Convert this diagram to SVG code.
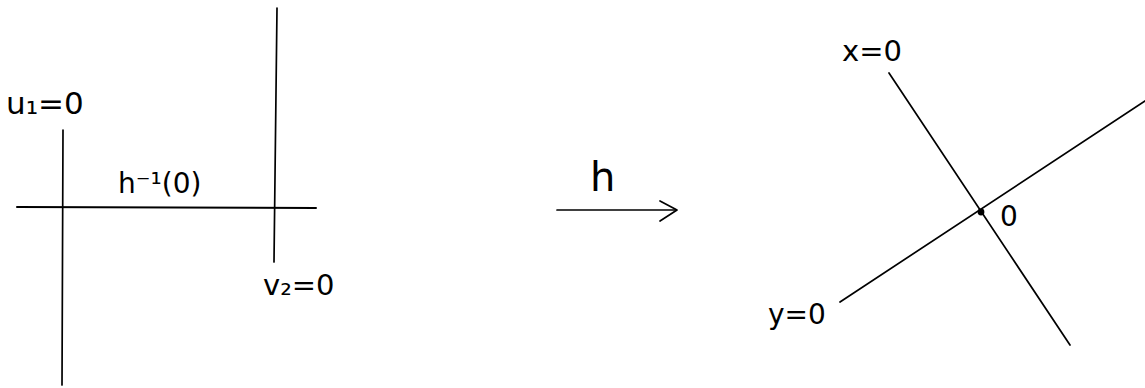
<svg xmlns="http://www.w3.org/2000/svg" width="1145" height="388" viewBox="0 0 1145 388">
<style>
.ln{stroke:#000;stroke-width:1.7;fill:none;stroke-linecap:round;stroke-linejoin:round}
.t{font-family:"DejaVu Sans","Liberation Sans",sans-serif;fill:#000}
</style>
<rect width="1145" height="388" fill="#fff"/>
<g id="source">
<g id="u1-line"><line class="ln" x1="63" y1="130" x2="62" y2="385"/></g>
<g id="v2-line"><line class="ln" x1="277" y1="8" x2="274" y2="262"/></g>
<g id="fibre-line"><line class="ln" x1="17" y1="207" x2="316" y2="208" style="stroke-width:2"/></g>
<text class="t" x="6" y="114" font-size="31">u₁=0</text>
<text class="t" x="118" y="193" font-size="28">h⁻¹(0)</text>
<text class="t" x="263" y="295" font-size="29">v₂=0</text>
</g>
<g id="connectors">
<g id="map-h">
<line class="ln" x1="557" y1="210" x2="676" y2="210"/>
<polyline class="ln" points="660,201 677,210 660,221"/>
<text class="t" x="590" y="191" font-size="40">h</text>
</g>
</g>
<g id="target">
<g id="x-line"><line class="ln" x1="889" y1="73" x2="1070" y2="345"/></g>
<g id="y-line"><line class="ln" x1="840" y1="302" x2="1145" y2="101"/></g>
<circle cx="981" cy="212" r="3.4" fill="#000"/>
<text class="t" x="842" y="61" font-size="29">x=0</text>
<text class="t" x="768" y="324" font-size="28">y=0</text>
<text class="t" x="1000" y="226" font-size="28">0</text>
</g>
</svg>
